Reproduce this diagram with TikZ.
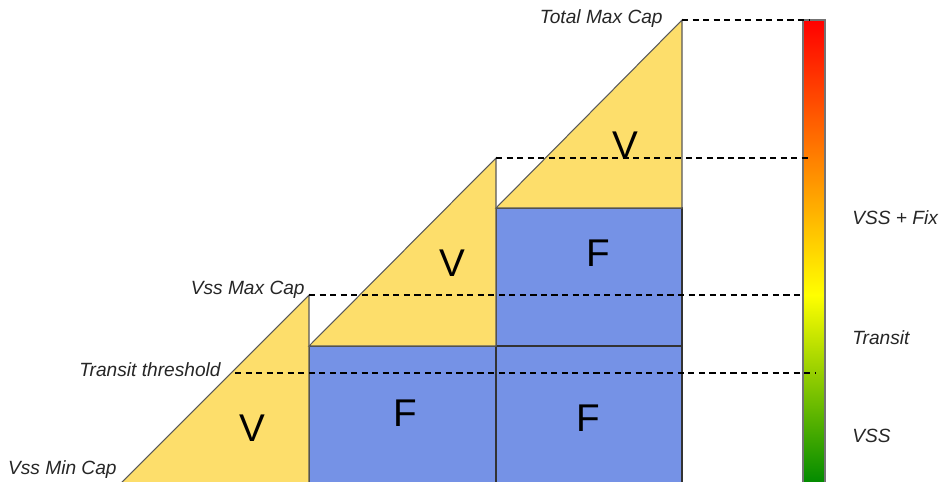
\documentclass[tikz,border=0pt]{standalone}
\usepackage{fontspec}
\setmainfont{Liberation Sans}
\definecolor{capyellow}{RGB}{253,222,107}
\definecolor{fixblue}{RGB}{117,146,230}
\definecolor{bargreen}{RGB}{0,138,0}
\begin{document}
\begin{tikzpicture}[x=0.02cm,y=-0.02cm,
  vpart/.style={fill=capyellow,draw=black!65,line width=0.6pt},
  fpart/.style={fill=fixblue,draw=black!80,line width=0.6pt},
  level/.style={dash pattern=on 3.5pt off 2.5pt,line width=0.7pt},
  lbl/.style={font=\itshape\fontsize{10.9}{13}\selectfont,text=black!85,inner sep=0pt},
  big/.style={font=\fontsize{22}{24}\selectfont,inner sep=0pt}]
\useasboundingbox (0,0) rectangle (940,481);

% corner points
\coordinate (vssmin) at (120,484);
\coordinate (vssmax) at (309,295);
\coordinate (fixlow) at (309,346);
\coordinate (midtop) at (496,158);
\coordinate (fixhigh) at (496,208);
\coordinate (totmax) at (682,20);
\coordinate (transit) at (235,373);

% fixed parts
\draw[fpart] (309,346) rectangle (496,484);
\draw[fpart] (496,346) rectangle (682,484);
\draw[fpart] (496,208) rectangle (682,346);

% variable parts
\draw[vpart] (vssmin) -- (vssmax) -- (309,484) -- cycle;
\draw[vpart] (fixlow) -- (midtop) -- (496,346) -- cycle;
\draw[vpart] (fixhigh) -- (totmax) -- (682,208) -- cycle;

% colour bar
\shade[top color=red,bottom color=yellow] (803,20) rectangle (825,295);
\shade[top color=yellow,bottom color=bargreen] (803,295) rectangle (825,484);
\draw[black!55,line width=0.6pt] (803,484) -- (803,20) -- (825,20) -- (825,484);

\coordinate (bar1) at (810,20);
\coordinate (bar2) at (812,158);
\coordinate (bar3) at (803,295);
\coordinate (bar4) at (815,373);

% levels
\draw[level] (totmax) -- (bar1);
\draw[level] (midtop) -- (bar2);
\draw[level] (vssmax) -- (bar3);
\draw[level] (transit) -- (bar4);

\node[big] (v1) at (252,428) {V};
\node[big] (v2) at (452,263) {V};
\node[big] (v3) at (625,145) {V};
\node[big] (f1) at (405,413) {F};
\node[big] (f2) at (588,418) {F};
\node[big] (f3) at (598,253) {F};

\node[lbl,anchor=east] (ltot) at (663,19) {Total Max Cap};
\node[lbl,anchor=east] (lmax) at (305,290) {Vss Max Cap};
\node[lbl,anchor=east] (ltr) at (221,370) {Transit threshold};
\node[lbl,anchor=east] (lmin) at (117,470) {Vss Min Cap};

\node[lbl,anchor=west] (zfix) at (852,218) {VSS + Fix};
\node[lbl,anchor=west] (ztr) at (852,338) {Transit};
\node[lbl,anchor=west] (zvss) at (852,436) {VSS};
\end{tikzpicture}
\end{document}
